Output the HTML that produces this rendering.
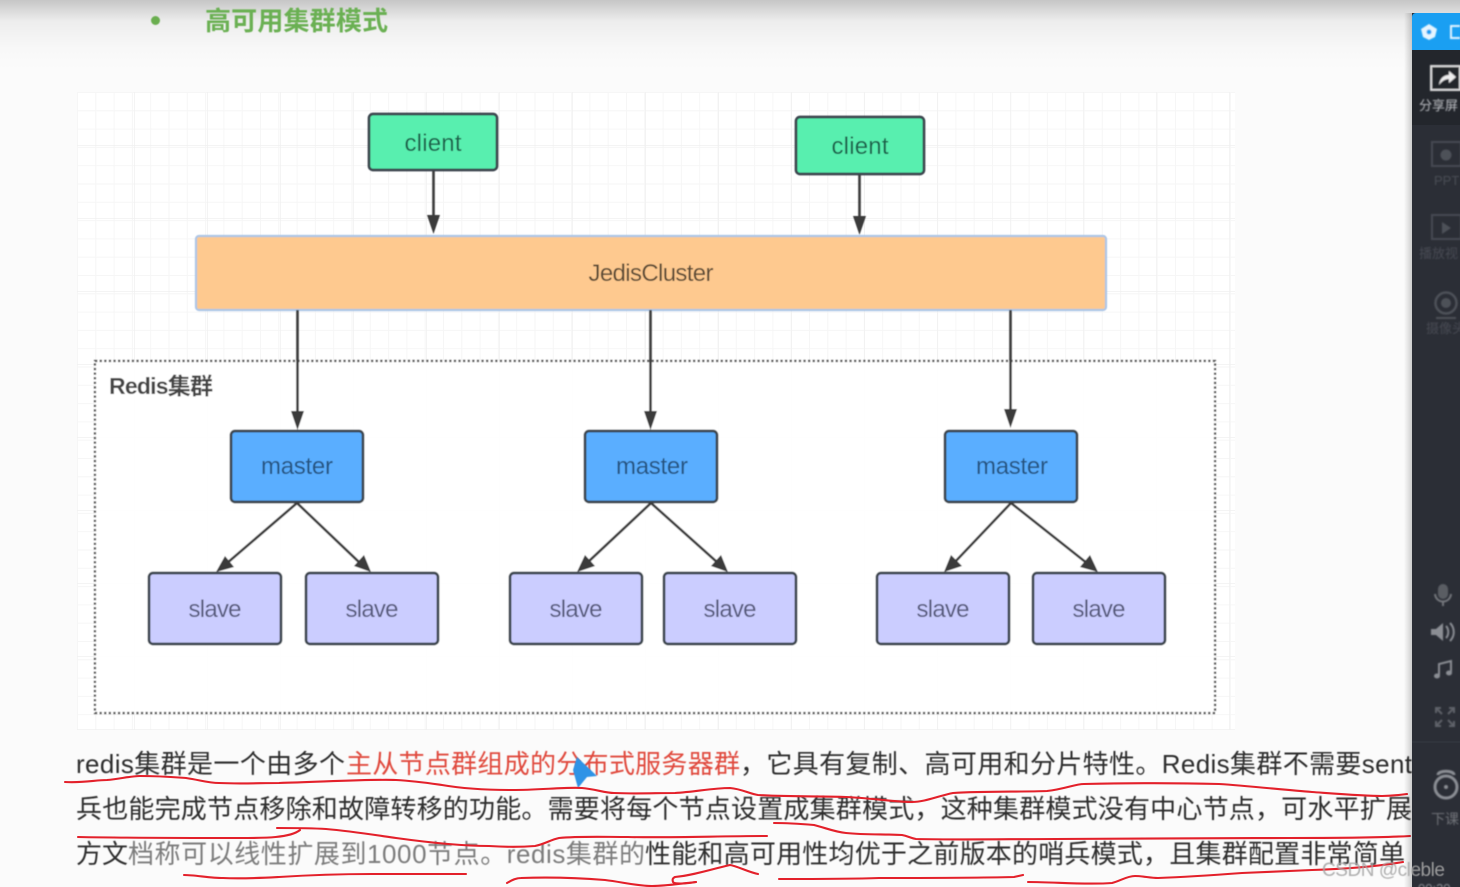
<!DOCTYPE html>
<html><head><meta charset="utf-8">
<style>
html,body{margin:0;padding:0;width:1460px;height:887px;overflow:hidden;background:#fbfbfb}
svg{display:block}
text{font-family:"Liberation Sans","Noto Sans CJK SC",sans-serif}
.b{stroke:#3d4650;stroke-width:2.7}
.n{font-size:24px;text-anchor:middle}
.t{font-size:26px;fill:#2e2e2e}
.r{fill:none;stroke:#e3202a;stroke-width:2.1;stroke-linecap:round;stroke-linejoin:round}
.l{stroke:#3a3a3a;stroke-width:2.6;fill:none}
.a{fill:#3a3a3a}
</style></head><body>
<svg width="1460" height="887" viewBox="0 0 1460 887" xmlns="http://www.w3.org/2000/svg">
<defs>
<linearGradient id="top" x1="0" y1="0" x2="0" y2="1"><stop offset="0" stop-color="#c6c6c6"/><stop offset="0.3" stop-color="#ededed"/><stop offset="0.7" stop-color="#f8f8f8"/><stop offset="1" stop-color="#fbfbfb"/></linearGradient>
<pattern id="g1" x="77" y="92" width="18.3" height="18.3" patternUnits="userSpaceOnUse"><path d="M0.5 0V18.3M0 0.5H18.3" stroke="#f6f6f6" stroke-width="1" fill="none"/></pattern>
<pattern id="g2" x="62" y="73" width="73" height="73" patternUnits="userSpaceOnUse"><path d="M73 0V73M0 73H73" stroke="#f0f0f0" stroke-width="1.4" fill="none"/></pattern>
<filter id="bl" x="-2%" y="-2%" width="104%" height="104%"><feGaussianBlur stdDeviation="0.5"/></filter>
<filter id="bl2" x="-2%" y="-2%" width="104%" height="104%"><feGaussianBlur stdDeviation="0.8"/></filter>
<linearGradient id="sh" x1="0" y1="0" x2="1" y2="0"><stop offset="0" stop-color="#000" stop-opacity="0"/><stop offset="1" stop-color="#000" stop-opacity="0.18"/></linearGradient>
</defs>

<rect width="1460" height="887" fill="#fbfbfb"/>
<rect width="1460" height="70" fill="url(#top)"/>
<rect x="77" y="92" width="1158" height="638" fill="#fff"/>
<rect x="77" y="92" width="1158" height="638" fill="url(#g1)"/>
<rect x="77" y="92" width="1158" height="638" fill="url(#g2)"/>

<g filter="url(#bl)">
<circle cx="155.500" cy="20.500" r="4.500" fill="#6bae50"/>
<text x="205" y="30" font-weight="700" fill="#6bb052" textLength="183" lengthAdjust="spacing" style="font-size:26px">高可用集群模式</text>

<rect x="95" y="361" width="1120" height="352" fill="#fff" fill-opacity="0.96" stroke="#555" stroke-width="2.2" stroke-dasharray="2.300 2.300"/>
<text x="109" y="394" font-weight="700" fill="#444" style="font-size:23px" textLength="104" lengthAdjust="spacing">Redis集群</text>

<rect x="369" y="114" width="128" height="56" rx="4" fill="#58efaf" class="b"/>
<rect x="796" y="117" width="128" height="57" rx="4" fill="#58efaf" class="b"/>
<text x="433" y="151" class="n" fill="#1e5f4a" textLength="57" lengthAdjust="spacing">client</text>
<text x="860" y="154" class="n" fill="#1e5f4a" textLength="57" lengthAdjust="spacing">client</text>

<rect x="196" y="236" width="910" height="74" rx="3" fill="#fec98f" stroke="#adc6e6" stroke-width="2.200"/>
<text x="651" y="281" class="n" fill="#5a4a35" textLength="125" lengthAdjust="spacing">JedisCluster</text>

<g fill="#5aaeff" class="b">
<rect x="231" y="431" width="132" height="71" rx="4"/>
<rect x="585" y="431" width="132" height="71" rx="4"/>
<rect x="945" y="431" width="132" height="71" rx="4"/>
</g>
<g fill="#26527f">
<text x="297" y="474" class="n" textLength="72" lengthAdjust="spacing">master</text>
<text x="652" y="474" class="n" textLength="72" lengthAdjust="spacing">master</text>
<text x="1012" y="474" class="n" textLength="72" lengthAdjust="spacing">master</text>
</g>

<g fill="#cbcdff" class="b">
<rect x="149" y="573" width="132" height="71" rx="4"/>
<rect x="306" y="573" width="132" height="71" rx="4"/>
<rect x="510" y="573" width="132" height="71" rx="4"/>
<rect x="664" y="573" width="132" height="71" rx="4"/>
<rect x="877" y="573" width="132" height="71" rx="4"/>
<rect x="1033" y="573" width="132" height="71" rx="4"/>
</g>
<g fill="#565a7c">
<text x="215" y="617" class="n" textLength="53" lengthAdjust="spacing">slave</text>
<text x="372" y="617" class="n" textLength="53" lengthAdjust="spacing">slave</text>
<text x="576" y="617" class="n" textLength="53" lengthAdjust="spacing">slave</text>
<text x="730" y="617" class="n" textLength="53" lengthAdjust="spacing">slave</text>
<text x="943" y="617" class="n" textLength="53" lengthAdjust="spacing">slave</text>
<text x="1099" y="617" class="n" textLength="53" lengthAdjust="spacing">slave</text>
</g>

<g class="l">
<path d="M433.500 171V220"/><path d="M859.500 175V221"/>
<path d="M297.500 310V416"/><path d="M650.500 310V416"/><path d="M1010.500 310V414"/>
<path d="M297 503L226 564"/><path d="M297 503L361 564"/>
<path d="M651 503L587 563"/><path d="M651 503L718 563"/>
<path d="M1011 503L954 563"/><path d="M1011 503L1088 564"/>
</g>
<g class="a">
<polygon points="427,215 440,215 433.500,234"/>
<polygon points="853,216 866,216 859.500,235"/>
<polygon points="291,411 304,411 297.500,430"/>
<polygon points="644,411 657,411 650.500,430"/>
<polygon points="1004,409 1017,409 1010.500,428"/>
<polygon points="216,572 225,556 234,567"/>
<polygon points="371,572 354,566 364,555"/>
<polygon points="577,572 585,555 595,566"/>
<polygon points="728,572 711,566 721,555"/>
<polygon points="944,572 951,555 962,566"/>
<polygon points="1098,572 1080,567 1090,555"/>
</g>

<text x="76" y="773" class="t" textLength="269" lengthAdjust="spacing">redis集群是一个由多个</text>
<text x="346" y="773" class="t" style="fill:#e04a3c" textLength="394" lengthAdjust="spacing">主从节点群组成的分布式服务器群</text>
<text x="740" y="773" class="t" textLength="672" lengthAdjust="spacing">，它具有复制、高可用和分片特性。Redis集群不需要sent</text>
<text x="76" y="818" class="t" textLength="1336" lengthAdjust="spacing">兵也能完成节点移除和故障转移的功能。需要将每个节点设置成集群模式，这种集群模式没有中心节点，可水平扩展</text>
<text x="76" y="863" class="t" textLength="52" lengthAdjust="spacing">方文</text>
<text x="128" y="863" class="t" style="fill:#7d7d7d" textLength="517" lengthAdjust="spacing">档称可以线性扩展到1000节点。redis集群的</text>
<text x="645" y="863" class="t" textLength="760" lengthAdjust="spacing">性能和高可用性均优于之前版本的哨兵模式，且集群配置非常简单</text>
</g>

<polygon points="577,757 597,776 587,777 578,788 573,770" fill="#2f93e6" filter="url(#bl)"/>

<g class="r">
<path d="M65 782C85 783 95 780 107 780C120 779 130 776 140 776C160 776 172 777 186 778C200 780 208 783 219 783C240 784 260 783 279 783C320 782 370 779 396 780C415 781 428 783 442 785C465 789 490 790 512 790C540 790 565 787 582 788C595 789 605 793 614 793C635 794 655 793 675 793C695 792 712 788 730 788C742 789 750 794 758 795C790 797 820 796 846 797C870 798 895 802 912 802C925 802 938 796 953 793C985 791 1020 792 1047 791C1065 789 1075 784 1084 784C1130 783 1180 783 1219 784C1250 786 1285 790 1312 792C1340 794 1365 796 1382 796C1392 796 1400 795 1407 794"/>
<path d="M78 837C130 838 190 838 240 838C265 838 290 838 300 830"/>
<path d="M277 828C295 828 310 828 326 829C350 831 375 835 396 838C425 842 460 846 489 846C505 847 522 847 535 846C545 844 550 840 559 838C580 836 605 837 628 837C670 838 720 836 767 836"/>
<path d="M774 823C790 823 802 824 814 825C826 828 835 832 846 833C865 835 885 834 902 835C908 836 910 838 916 839C960 840 1010 839 1056 839C1130 839 1210 838 1289 838C1330 838 1375 838 1410 836"/>
<path d="M184 875C195 875 210 878 223 878C242 879 260 878 279 877C310 875 340 874 372 874C405 874 435 874 466 874"/>
<path d="M507 883C512 880 516 878 521 878C550 877 580 878 605 880C622 882 637 886 652 886C665 886 678 884 696 882"/>
<path d="M696 882C685 884 674 884 673 882C672 879 673 878 675 877C695 875 712 869 730 865C737 866 748 872 758 874"/>
<path d="M779 879C810 879 850 879 879 878C925 878 970 878 1014 877L1023 875"/>
<path d="M1028 882C1055 882 1085 885 1112 883C1120 881 1127 876 1135 876C1143 876 1150 878 1158 878C1185 877 1215 875 1242 873C1265 872 1290 871 1312 870C1345 869 1380 866 1403 862"/>
</g>

<rect x="1404" y="13" width="8" height="874" fill="url(#sh)"/>
<rect x="1412" y="13" width="48" height="874" fill="#2b2e36"/>
<path d="M1412 50V17a4 4 0 0 1 4-4H1460V50Z" fill="#1a9ff2"/>
<rect x="1412" y="50" width="48" height="75" fill="#23262c"/>
<line x1="1412" y1="742" x2="1460" y2="742" stroke="#363941" stroke-width="1"/>
<g filter="url(#bl2)">
<polygon points="1429,24 1437,29 1435,37 1429,40 1423,37 1421,29" fill="#e6f5ff"/>
<circle cx="1429" cy="32" r="2.500" fill="#1a9ff2"/>
<path d="M1460 26H1451V38H1460" fill="none" stroke="#e6f5ff" stroke-width="2"/>
<rect x="1431" y="66" width="29" height="24" fill="#23262c" stroke="#e0e0e0" stroke-width="2"/>
<path d="M1439 85C1440 78 1444 75 1449 75V71L1456 77L1449 83V79C1445 79 1442 81 1439 85Z" fill="#eee"/>
<text x="1419" y="110" fill="#b9bbc0" style="font-size:13px">分享屏</text>

<rect x="1432" y="142" width="29" height="24" fill="none" stroke="#474a52" stroke-width="2"/>
<circle cx="1446" cy="155" r="5.500" fill="#4e5159"/>
<text x="1434" y="185" fill="#4a4d55" style="font-size:13px">PPT</text>
<rect x="1432" y="215" width="29" height="24" fill="none" stroke="#474a52" stroke-width="2"/>
<polygon points="1442,222 1451,228 1442,234" fill="#4e5159"/>
<text x="1419" y="258" fill="#474a52" style="font-size:13px">播放视</text>
<circle cx="1446" cy="303" r="10.500" fill="none" stroke="#4e5159" stroke-width="2.500"/>
<circle cx="1446" cy="303" r="5" fill="#4e5159"/>
<path d="M1436 318H1456" stroke="#4e5159" stroke-width="2"/>
<text x="1426" y="333" fill="#474a52" style="font-size:13px">摄像头</text>

<rect x="1438" y="584" width="10" height="15" rx="5" fill="#5a5d64"/>
<path d="M1435 594C1436 604 1450 604 1451 594" fill="none" stroke="#74777d" stroke-width="2"/>
<rect x="1442" y="602" width="2" height="4" fill="#74777d"/>
<polygon points="1431,629 1436,629 1443,623 1443,641 1436,635 1431,635" fill="#8b8e94"/>
<path d="M1446 626C1449 629 1449 635 1446 638M1450 623C1455 628 1455 636 1450 641" fill="none" stroke="#8b8e94" stroke-width="2"/>
<path d="M1439 675V664L1451 661V672" fill="none" stroke="#8b8e94" stroke-width="2"/>
<ellipse cx="1437" cy="676" rx="3" ry="2.500" fill="#8b8e94"/>
<ellipse cx="1449" cy="673" rx="3" ry="2.500" fill="#8b8e94"/>
<g fill="none" stroke="#5f6269" stroke-width="2">
<path d="M1436 713V708H1441M1436 708L1442 714"/><path d="M1449 708H1454V713M1454 708L1448 714"/>
<path d="M1436 721V726H1441M1436 726L1442 720"/><path d="M1449 726H1454V721M1454 726L1448 720"/>
</g>
<circle cx="1446" cy="787" r="11" fill="none" stroke="#8b8e94" stroke-width="3"/>
<circle cx="1446" cy="787" r="2" fill="#8b8e94"/>
<path d="M1438 775C1438 770 1454 770 1454 775" fill="none" stroke="#8b8e94" stroke-width="3"/>
<text x="1431" y="824" fill="#6f7278" style="font-size:14px">下课</text>
<text x="1418" y="893" fill="#8b8e94" style="font-size:13px">00:30</text>
</g>

<text x="1322" y="876" fill="#a6a6a6" fill-opacity="0.9" style="font-size:19px" textLength="123" lengthAdjust="spacing" filter="url(#bl)">CSDN @cleble</text>
</svg>
</body></html>
